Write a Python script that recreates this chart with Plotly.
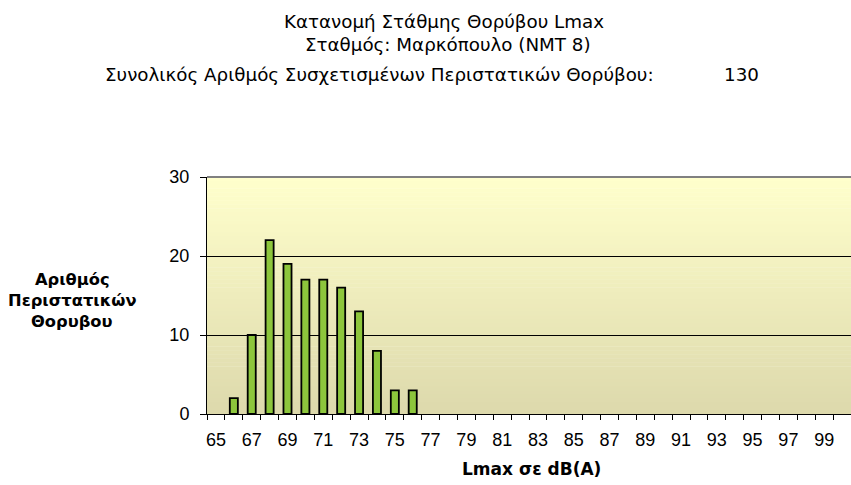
import plotly.graph_objects as go

levels = list(range(65, 101))
counts = [0, 2, 10, 22, 19, 17, 17, 16, 13, 8, 3, 3] + [0] * 24
tick_labels = [str(v) for v in range(65, 100, 2)]
y_ticks = [0, 10, 20, 30]

title1 = "Κατανομή Στάθμης Θορύβου Lmax"
title2 = "Σταθμός: Μαρκόπουλο (NMT 8)"
title3 = "Συνολικός Αριθμός Συσχετισμένων Περιστατικών Θορύβου:"
total = "130"
ytitle_lines = ["Αριθμός", "Περιστατικών", "Θορυβου"]
xtitle = "Lmax σε dB(A)"

FONT = "DejaVu Sans"
TICKFONT = "Liberation Sans"
W, H = 851, 485
L, R, T, B = 207, 851, 177, 414
pw, ph = R - L, B - T

def px(x):
    return (x - L) / pw

def py(y):
    return (B - y) / ph

fig = go.Figure()
fig.add_trace(go.Bar(
    x=levels, y=counts,
    marker=dict(color="#8dc63c",
                line=dict(color="black", width=[1.8 if c > 0 else 0 for c in counts])),
    width=0.45,
))

# gradient background strips
shapes = []
n = 60
top = (255, 255, 204)
bot = (221, 217, 172)
for i in range(n):
    t = i / (n - 1)
    c = tuple(round(bot[k] + (top[k] - bot[k]) * t) for k in range(3))
    shapes.append(dict(type="rect", xref="paper", yref="paper",
                       x0=0, x1=1, y0=i / n, y1=(i + 1) / n + 0.002,
                       fillcolor="rgb(%d,%d,%d)" % c, line=dict(width=0),
                       layer="below"))
shapes.append(dict(type="line", xref="paper", yref="paper", x0=0, x1=1, y0=1, y1=1,
                   line=dict(color="#808080", width=2), layer="above"))

annotations = [
    dict(text=title1, x=px(606), y=py(21), xanchor="right"),
    dict(text=title2, x=px(593), y=py(45), xanchor="right"),
    dict(text=title3, x=px(656), y=py(74), xanchor="right"),
    dict(text=total, x=px(722), y=py(74), xanchor="left"),
]
for a in annotations:
    a.update(xref="paper", yref="paper", showarrow=False, yanchor="middle",
             font=dict(family=FONT, size=18.3, color="black"))
for i, line in enumerate(ytitle_lines):
    annotations.append(dict(text="<b>" + line + "</b>", xref="paper", yref="paper",
                            x=px(72), y=py(279 + 21 * i), showarrow=False,
                            xanchor="center", yanchor="middle",
                            font=dict(family=FONT, size=16.3, color="black")))
annotations.append(dict(text="<b>" + xtitle + "</b>", xref="paper", yref="paper",
                        x=px(531), y=py(469), showarrow=False, xanchor="center",
                        yanchor="middle",
                        font=dict(family=FONT, size=17, color="black")))

fig.update_layout(
    width=W, height=H,
    margin=dict(l=L, r=W - R, t=T, b=H - B, pad=0),
    paper_bgcolor="white", plot_bgcolor="rgba(0,0,0,0)",
    showlegend=False, bargap=0.55,
    shapes=shapes, annotations=annotations,
    font=dict(family=TICKFONT, size=18, color="black"),
    xaxis=dict(
        type="linear", range=[64.5, 100.5],
        tickmode="array", tickvals=[int(s) for s in tick_labels], ticktext=tick_labels,
        ticks="", ticklabelstandoff=9, showgrid=False, zeroline=False,
        showline=True, linecolor="black", linewidth=1,
        tickfont=dict(family=TICKFONT, size=18),
        minor=dict(tickmode="array", tickvals=[v - 0.5 for v in levels] + [100.5],
                   ticks="outside", ticklen=5, tickcolor="black", showgrid=False),
    ),
    yaxis=dict(
        range=[0, 30], tickmode="array", tickvals=y_ticks,
        ticks="outside", ticklen=6, tickcolor="black", ticklabelstandoff=7,
        showgrid=True, gridcolor="black", gridwidth=1, zeroline=False,
        showline=True, linecolor="black", linewidth=1,
        tickfont=dict(family=TICKFONT, size=18),
    ),
)

fig.write_html("out.html", config={"displayModeBar": False},
               post_script="document.body.style.margin='0';document.body.style.overflow='hidden';")
